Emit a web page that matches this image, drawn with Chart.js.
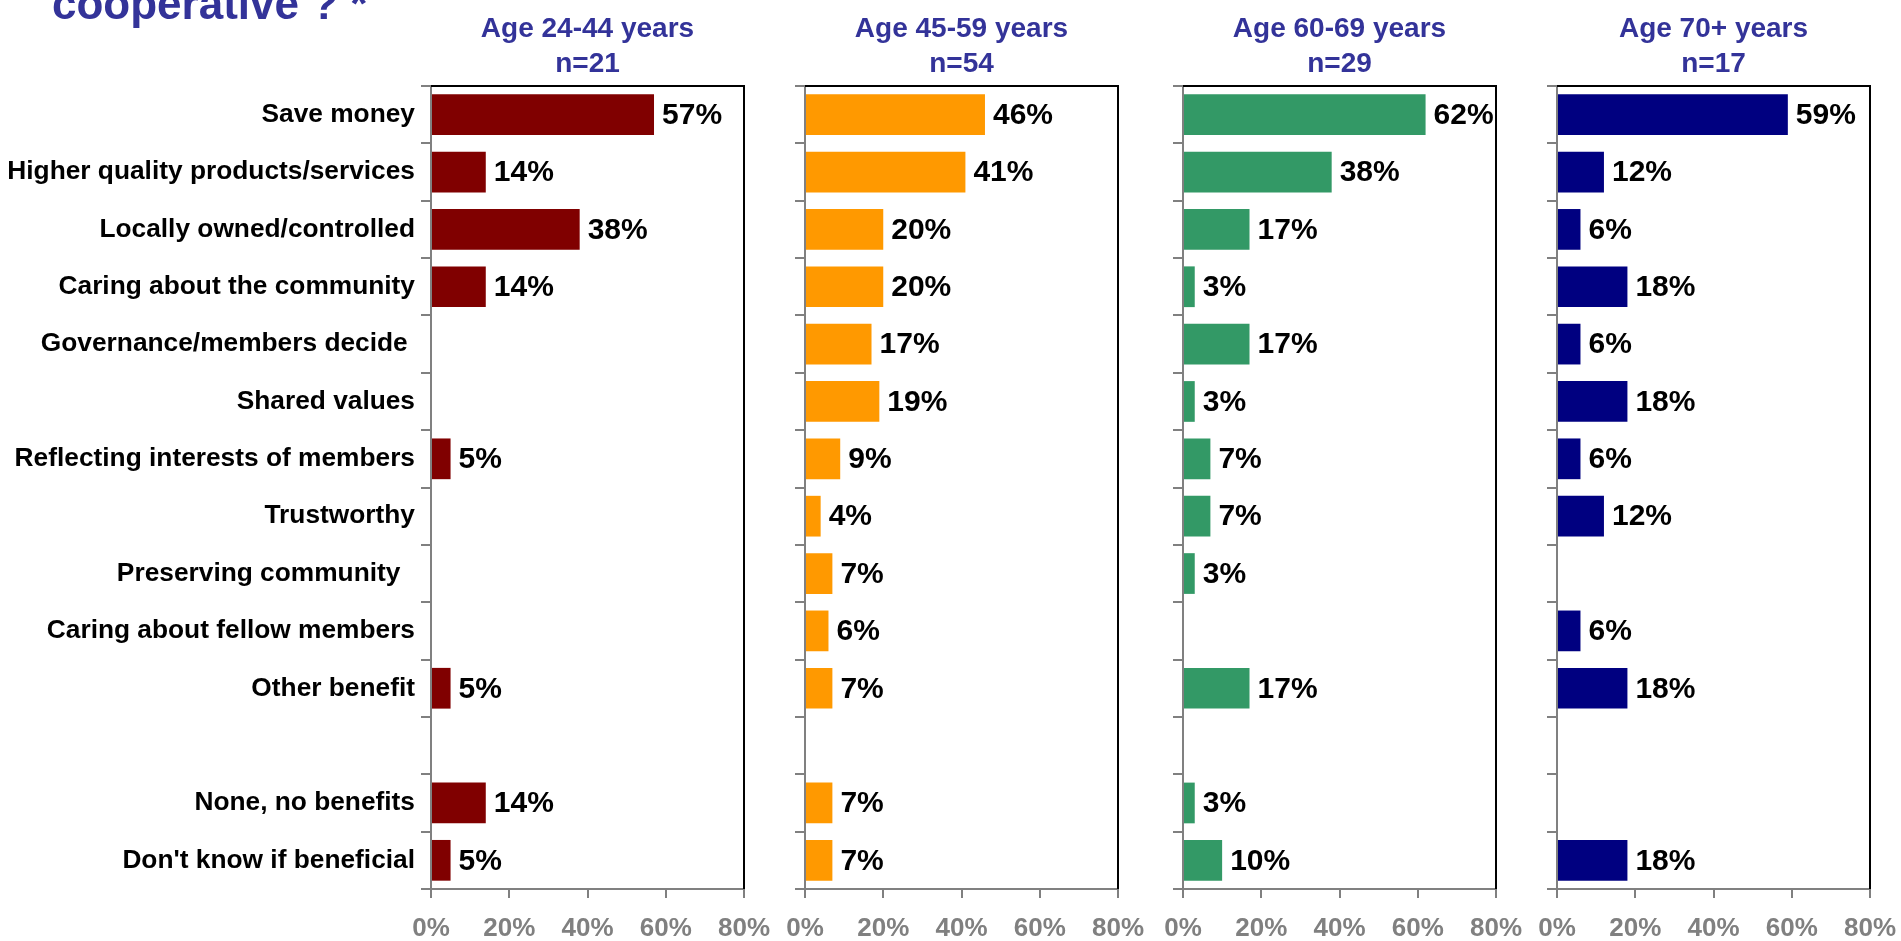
<!DOCTYPE html>
<html>
<head>
<meta charset="utf-8">
<script src="https://cdn.jsdelivr.net/npm/chart.js@4.4.1/dist/chart.umd.min.js"></script>
<style>
  html, body { margin: 0; padding: 0; background: #fff; }
  body { width: 1901px; height: 941px; position: relative; overflow: hidden; }
  canvas { position: absolute; top: 0; }
</style>
</head>
<body>
<canvas id="c1" width="774" height="941" style="left:0"></canvas>
<canvas id="c2" width="373" height="941" style="left:775px"></canvas>
<canvas id="c3" width="373" height="941" style="left:1153px"></canvas>
<canvas id="c4" width="373" height="941" style="left:1527px"></canvas>
<script>
// categories (the empty one is the gap row in the original)
const categories = [
    'Save money',
    'Higher quality products/services',
    'Locally owned/controlled',
    'Caring about the community',
    'Governance/members decide ',
    'Shared values',
    'Reflecting interests of members',
    'Trustworthy',
    'Preserving community  ',
    'Caring about fellow members',
    'Other benefit',
    '',
    'None, no benefits',
    "Don't know if beneficial"
];

const age24to44 = [57, 14, 38, 14, null, null, 5, null, null, null, 5, null, 14, 5];
const age45to59 = [46, 41, 20, 20, 17, 19, 9, 4, 7, 6, 7, null, 7, 7];
const age60to69 = [62, 38, 17, 3, 17, 3, 7, 7, 3, null, 17, null, 3, 10];
const age70plus = [59, 12, 6, 18, 6, 18, 6, 12, null, 6, 18, null, null, 18];

const groupNames = ['Age 24-44 years', 'Age 45-59 years', 'Age 60-69 years', 'Age 70+ years'];
const groupSizes = ['n=21', 'n=54', 'n=29', 'n=17'];
const groupColors = ['#800000', '#FF9900', '#339966', '#000080'];

const xTicks = [0, 20, 40, 60, 80];

const FONT = "'Liberation Sans', Arial, Helvetica, sans-serif";
Chart.defaults.font.family = FONT;

function makePanel(canvasId, values, index) {
    const first = index === 0;

    // black frame on top and right of the plot area
    const frame = {
        id: 'frame',
        afterDraw(chart) {
            const a = chart.chartArea;
            const ctx = chart.ctx;
            ctx.save();
            ctx.strokeStyle = '#000';
            ctx.lineWidth = 2;
            ctx.beginPath();
            ctx.moveTo(a.left, a.top);
            ctx.lineTo(a.right, a.top);
            ctx.lineTo(a.right, a.bottom);
            ctx.stroke();
            ctx.restore();
        }
    };

    // percentage labels at the end of each bar
    const valueLabels = {
        id: 'valueLabels',
        afterDatasetsDraw(chart) {
            const ctx = chart.ctx;
            const meta = chart.getDatasetMeta(0);
            ctx.save();
            ctx.fillStyle = '#000';
            ctx.font = 'bold 30px ' + FONT;
            ctx.textAlign = 'left';
            ctx.textBaseline = 'middle';
            meta.data.forEach((bar, i) => {
                const v = values[i];
                if (v === null || v === undefined) return;
                ctx.fillText(v + '%', bar.x + 8, bar.y + 1);
            });
            ctx.restore();
        }
    };

    // group header over the plot area, plus the cut-off question on the first panel
    const header = {
        id: 'header',
        afterDraw(chart) {
            const a = chart.chartArea;
            const ctx = chart.ctx;
            const cx = (a.left + a.right) / 2;
            ctx.save();
            ctx.fillStyle = '#333399';
            ctx.font = 'bold 28px ' + FONT;
            ctx.textAlign = 'center';
            ctx.textBaseline = 'alphabetic';
            ctx.fillText(groupNames[index], cx, 37);
            ctx.fillText(groupSizes[index], cx, 72);
            if (first) {
                ctx.textAlign = 'left';
                ctx.font = 'bold 44px ' + FONT;
                ctx.fillText('cooperative ? *', 52, 19);
            }
            ctx.restore();
        }
    };

    return new Chart(document.getElementById(canvasId), {
        type: 'bar',
        data: {
            labels: categories,
            datasets: [{
                data: values,
                backgroundColor: groupColors[index],
                barPercentage: 0.71,
                categoryPercentage: 1
            }]
        },
        options: {
            indexAxis: 'y',
            responsive: false,
            animation: false,
            layout: { padding: { top: 86, right: 30, bottom: 0, left: 0 } },
            plugins: {
                legend: { display: false },
                tooltip: { enabled: false }
            },
            scales: {
                x: {
                    min: 0,
                    max: 80,
                    afterBuildTicks: s => { s.ticks = xTicks.map(v => ({ value: v })); },
                    afterFit: s => {
                        s.height = 52;
                        s.paddingLeft = 0;
                        s.paddingRight = 0;
                    },
                    border: { color: '#808080', width: 2 },
                    grid: { drawOnChartArea: false, color: '#808080', lineWidth: 2, tickLength: 9 },
                    ticks: {
                        color: '#808080',
                        font: { size: 26, weight: 'bold' },
                        padding: 15,
                        maxRotation: 0,
                        callback: v => v + '%'
                    }
                },
                y: {
                    afterFit: s => { s.width = first ? 431 : 30; },
                    border: { color: '#808080', width: 2 },
                    grid: { drawOnChartArea: false, color: '#808080', lineWidth: 2, tickLength: 10 },
                    ticks: {
                        display: first,
                        autoSkip: false,
                        color: '#000',
                        font: { size: 26.3, weight: 'bold' },
                        padding: 6
                    }
                }
            }
        },
        plugins: [frame, valueLabels, header]
    });
}

makePanel('c1', age24to44, 0);
makePanel('c2', age45to59, 1);
makePanel('c3', age60to69, 2);
makePanel('c4', age70plus, 3);
</script>
</body>
</html>
